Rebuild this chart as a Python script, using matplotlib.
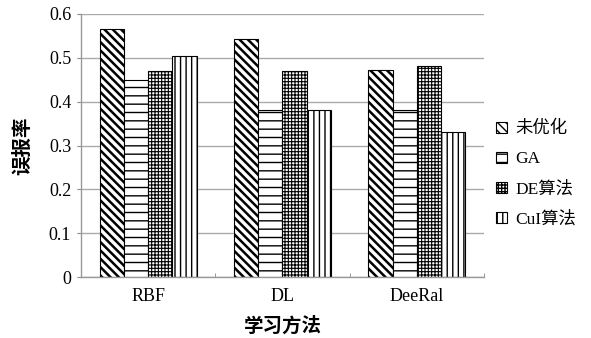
import matplotlib
matplotlib.use('Agg')
import matplotlib.pyplot as plt
import numpy as np

plt.rcParams['font.family'] = ['Liberation Serif', 'Noto Sans CJK SC']
plt.rcParams['hatch.linewidth'] = 1.0

methods = ['RBF', 'DL', 'DeeRal']
series = ['未优化', 'GA', 'DE算法', 'CuI算法']
unopt = [0.565, 0.542, 0.472]
ga = [0.45, 0.38, 0.38]
de = [0.47, 0.47, 0.481]
cui = [0.505, 0.38, 0.33]
yticks = [0, 0.1, 0.2, 0.3, 0.4, 0.5, 0.6]
ytick_labels = ['0', '0.1', '0.2', '0.3', '0.4', '0.5', '0.6']

hatches = ['\\\\\\\\', '--', '+++++', '|||']
hatch_lw = [1.8, 1.0, 0.8, 1.0]

fig = plt.figure(figsize=(5.91, 3.38), dpi=100)
ax = fig.add_axes([0.137, 0.18, 0.682, 0.779])

x = np.arange(len(methods)) + 0.5
w = 0.18
for i, (vals, lab) in enumerate(zip([unopt, ga, de, cui], series)):
    bars = ax.bar(x + (i - 1.5) * w, vals, w, color='white', edgecolor='black',
                  linewidth=0.8, hatch=hatches[i], label=lab, zorder=2)
    for b in bars:
        if hasattr(b, 'set_hatch_linewidth'):
            b.set_hatch_linewidth(hatch_lw[i])

ax.set_xlim(0, 3)
ax.set_ylim(0, 0.6)
ax.set_yticks(yticks)
ax.set_yticklabels(ytick_labels)
ax.set_xticks(x)
ax.set_xticklabels(methods)
ax.set_xticks([1, 2, 3], minor=True)
ax.tick_params(axis='x', which='major', length=0, labelsize=13, pad=8)
ax.tick_params(axis='x', which='minor', direction='in', length=3, color='#888888')
ax.tick_params(axis='y', length=3, color='#888888', labelsize=13, pad=4)
ax.yaxis.grid(True, color='#aaaaaa', linewidth=1, zorder=0)
ax.set_axisbelow(True)
for s in ['top', 'right']:
    ax.spines[s].set_visible(False)
for s in ['left', 'bottom']:
    ax.spines[s].set_color('#999999')
    ax.spines[s].set_linewidth(1)

ax.set_xlabel('学习方法', fontsize=14, fontweight='bold', labelpad=8)
ax.set_ylabel('误报率', fontsize=14, fontweight='bold', labelpad=12)

leg = ax.legend(loc='center left', bbox_to_anchor=(1.0, 0.39), frameon=False,
                fontsize=12.5, handlelength=0.6, handleheight=0.6,
                handletextpad=0.5, labelspacing=0.8, borderaxespad=0.3)

fig.savefig('out.png', dpi=100)
